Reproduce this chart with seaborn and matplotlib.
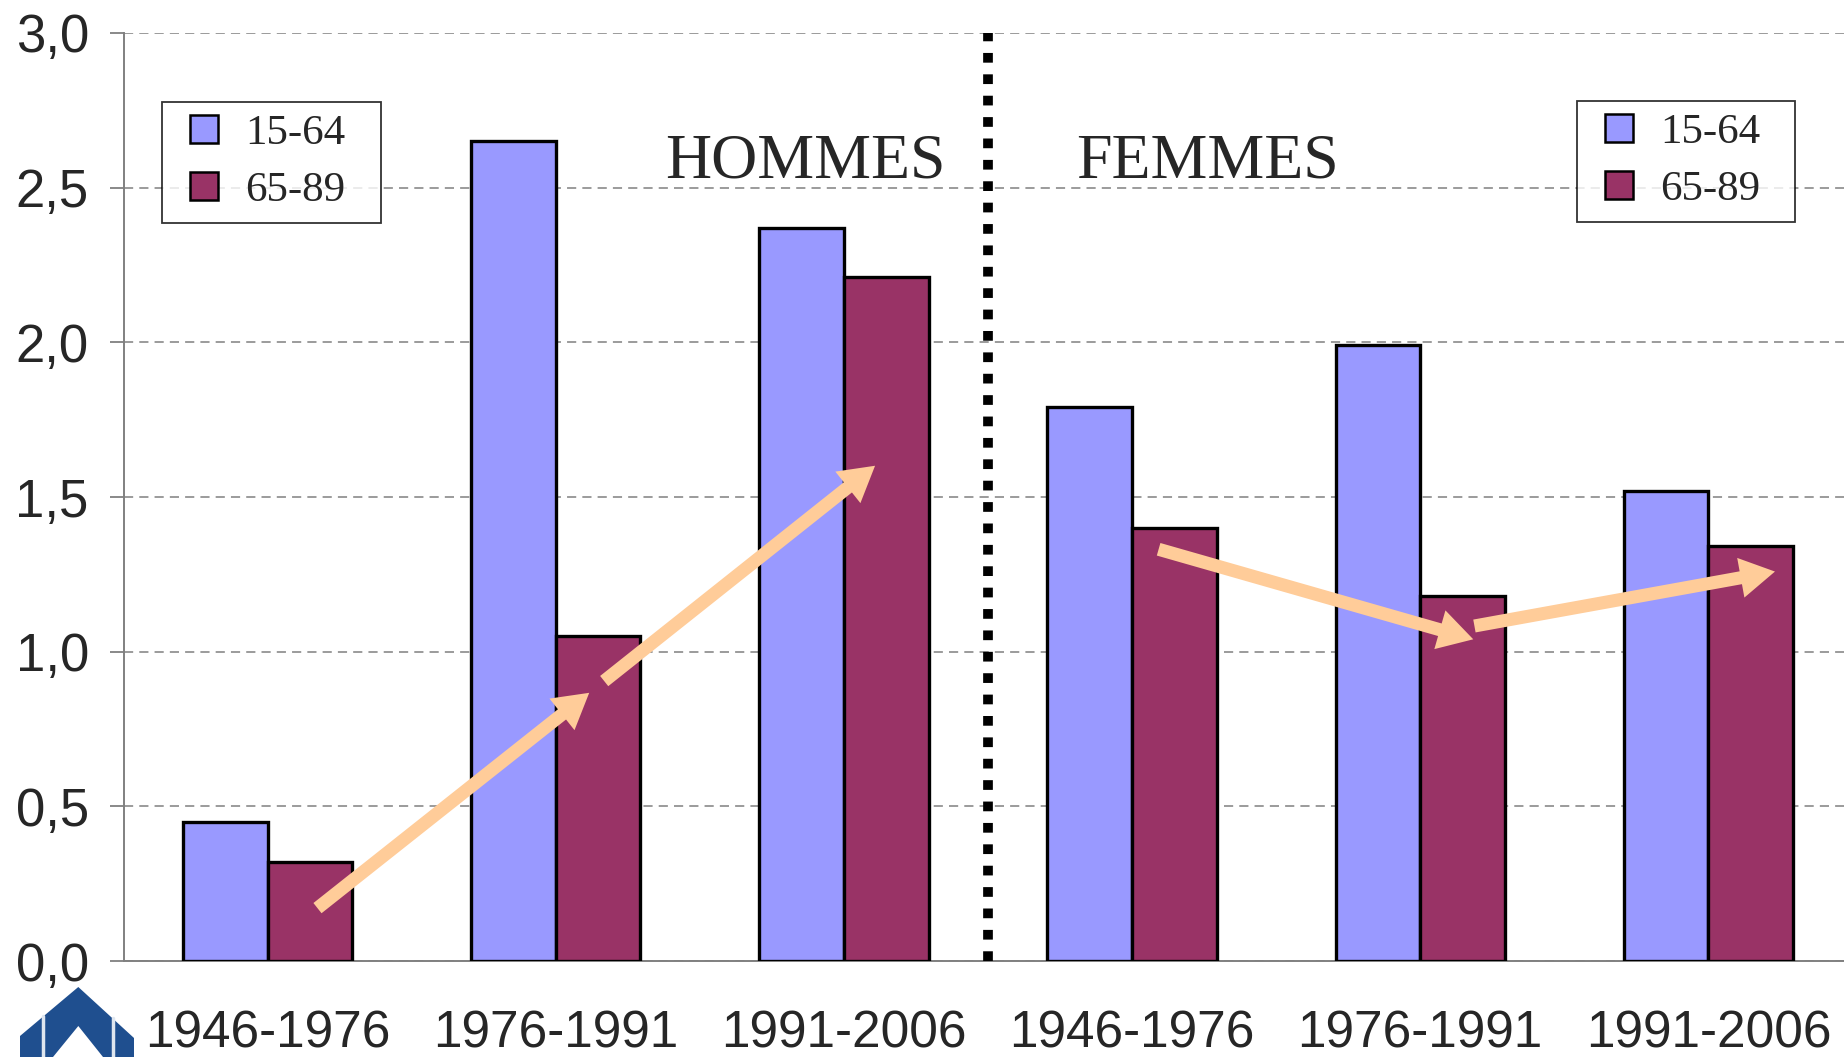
import numpy as np
import pandas as pd
import matplotlib
matplotlib.use("Agg")
import matplotlib.pyplot as plt
from matplotlib.patches import Polygon
from matplotlib.legend_handler import HandlerPatch
import seaborn as sns

# --- data ---
periods = ["1946-1976", "1976-1991", "1991-2006", "1946-1976", "1976-1991", "1991-2006"]
groups = ["H1", "H2", "H3", "F1", "F2", "F3"]
age_15_64 = [0.45, 2.65, 2.37, 1.79, 1.99, 1.52]
age_65_89 = [0.32, 1.05, 2.21, 1.40, 1.18, 1.34]
age_labels = ["15-64", "65-89"]

# orange trend arrows (start x, start y, end x, end y), data coords
arrow_x0 = [0.173, 1.168, 3.092, 4.188]
arrow_y0 = [0.171, 0.905, 1.331, 1.083]
arrow_x1 = [1.116, 2.108, 4.184, 5.231]
arrow_y1 = [0.867, 1.601, 1.040, 1.259]

df = pd.DataFrame({
    "groupe": groups * 2,
    "age": [age_labels[0]] * 6 + [age_labels[1]] * 6,
    "valeur": age_15_64 + age_65_89,
})

sns.set_style("white")
plt.rcParams["font.family"] = ["Liberation Sans", "DejaVu Sans"]

fig = plt.figure(figsize=(18.44, 10.57), dpi=100)
# the plot area runs a little past the right edge of the picture
ax = fig.add_axes([0.067, 0.0908, 0.9376, 0.878])

palette = {"15-64": "#9999FF", "65-89": "#993366"}
sns.barplot(data=df, x="groupe", y="valeur", hue="age", order=groups,
            hue_order=age_labels, palette=palette, width=0.588,
            edgecolor="black", linewidth=2.4, saturation=1, ax=ax,
            legend=False, zorder=3)

ax.set_xlim(-0.5, 5.5)
ax.set_ylim(0, 3.0)
ax.set_yticks(np.arange(0, 3.01, 0.5))
ax.set_yticklabels([f"{v:.1f}".replace(".", ",") for v in np.arange(0, 3.01, 0.5)])
ax.set_xticks(range(6))
ax.set_xticklabels(periods)
ax.set_xticks(np.arange(-0.5, 5.6, 1), minor=True)
ax.tick_params(axis="x", which="major", length=0, pad=35, labelsize=37)
ax.tick_params(axis="x", which="minor", length=11, width=1.3, color="#808080", direction="out")
ax.tick_params(axis="y", length=10, width=1.3, color="#808080", direction="out",
               pad=15, labelsize=38, left=True)
ax.set_xlabel("")
ax.set_ylabel("")

ax.grid(axis="y", linestyle=(0, (6, 4)), color="#808080", linewidth=1.1, zorder=0)
ax.set_axisbelow(True)
for side in ["top", "right"]:
    ax.spines[side].set_visible(False)
for side in ["left", "bottom"]:
    ax.spines[side].set_color("#808080")
    ax.spines[side].set_linewidth(1.4)

# separator between hommes / femmes
ax.axvline(2.5, ymin=0, ymax=1, color="black", linewidth=7,
           linestyle=(0, (1, 1.2)), zorder=4)

serif = ["Liberation Serif", "DejaVu Serif"]
ax.text(1.867, 2.58, "HOMMES", ha="center", va="center", fontsize=46, family=serif, zorder=5)
ax.text(3.263, 2.58, "FEMMES", ha="center", va="center", fontsize=46, family=serif, zorder=5)

for x0, y0, x1, y1 in zip(arrow_x0, arrow_y0, arrow_x1, arrow_y1):
    ax.annotate("", xy=(x1, y1), xytext=(x0, y0),
                arrowprops=dict(arrowstyle="simple,head_length=1.25,head_width=1.45,tail_width=0.47",
                                mutation_scale=20, color="#FFCC99", lw=0,
                                shrinkA=0, shrinkB=0), zorder=6)


# legend swatch: small square sitting at the right end of the handle slot
def square_swatch(legend, orig_handle, xdescent, ydescent, width, height, fontsize):
    w = 0.66 * fontsize
    return plt.Rectangle((-xdescent + width - w, -ydescent), w, height)


# two identical legends, one per half
handles = [plt.Rectangle((0, 0), 1, 1, facecolor=palette[a], edgecolor="black", linewidth=1.8)
           for a in age_labels]
leg_kw = dict(loc="upper left", bbox_transform=fig.transFigure, frameon=True, mode="expand",
              fancybox=False, prop={"family": serif, "size": 31}, handlelength=1.01,
              handleheight=0.62, handletextpad=0.62, labelspacing=0.42, borderpad=0.3,
              borderaxespad=0, handler_map={plt.Rectangle: HandlerPatch(patch_func=square_swatch)})
leg1 = ax.legend(handles, age_labels, bbox_to_anchor=(0.0879, 0.9035, 0.1186, 0), **leg_kw)
leg1.get_frame().set_edgecolor("black")
leg1.get_frame().set_linewidth(1.3)
leg1.set_zorder(7)
ax.add_artist(leg1)
leg2 = ax.legend(handles, age_labels, bbox_to_anchor=(0.8552, 0.9044, 0.1180, 0), **leg_kw)
leg2.get_frame().set_edgecolor("black")
leg2.get_frame().set_linewidth(1.3)
leg2.set_zorder(7)

# logo at bottom left (pixel coords, y from top)
W, H = 1844, 1057
logo_px = [(20, 1036), (78.3, 987), (134, 1038), (134, 1057), (103, 1057),
           (78.3, 1026), (53, 1057), (20, 1057)]
fig.patches.append(Polygon([(x / W, 1 - y / H) for x, y in logo_px], closed=True,
                           transform=fig.transFigure, facecolor="#1f4f8f", edgecolor="none"))
for sx, sy in [(43.3, 1016), (113.3, 1018)]:
    fig.add_artist(plt.Line2D([sx / W, sx / W], [1 - sy / H, 0], transform=fig.transFigure,
                              color="#dfe6ef", linewidth=2.5))

fig.savefig("out.png", dpi=100)
